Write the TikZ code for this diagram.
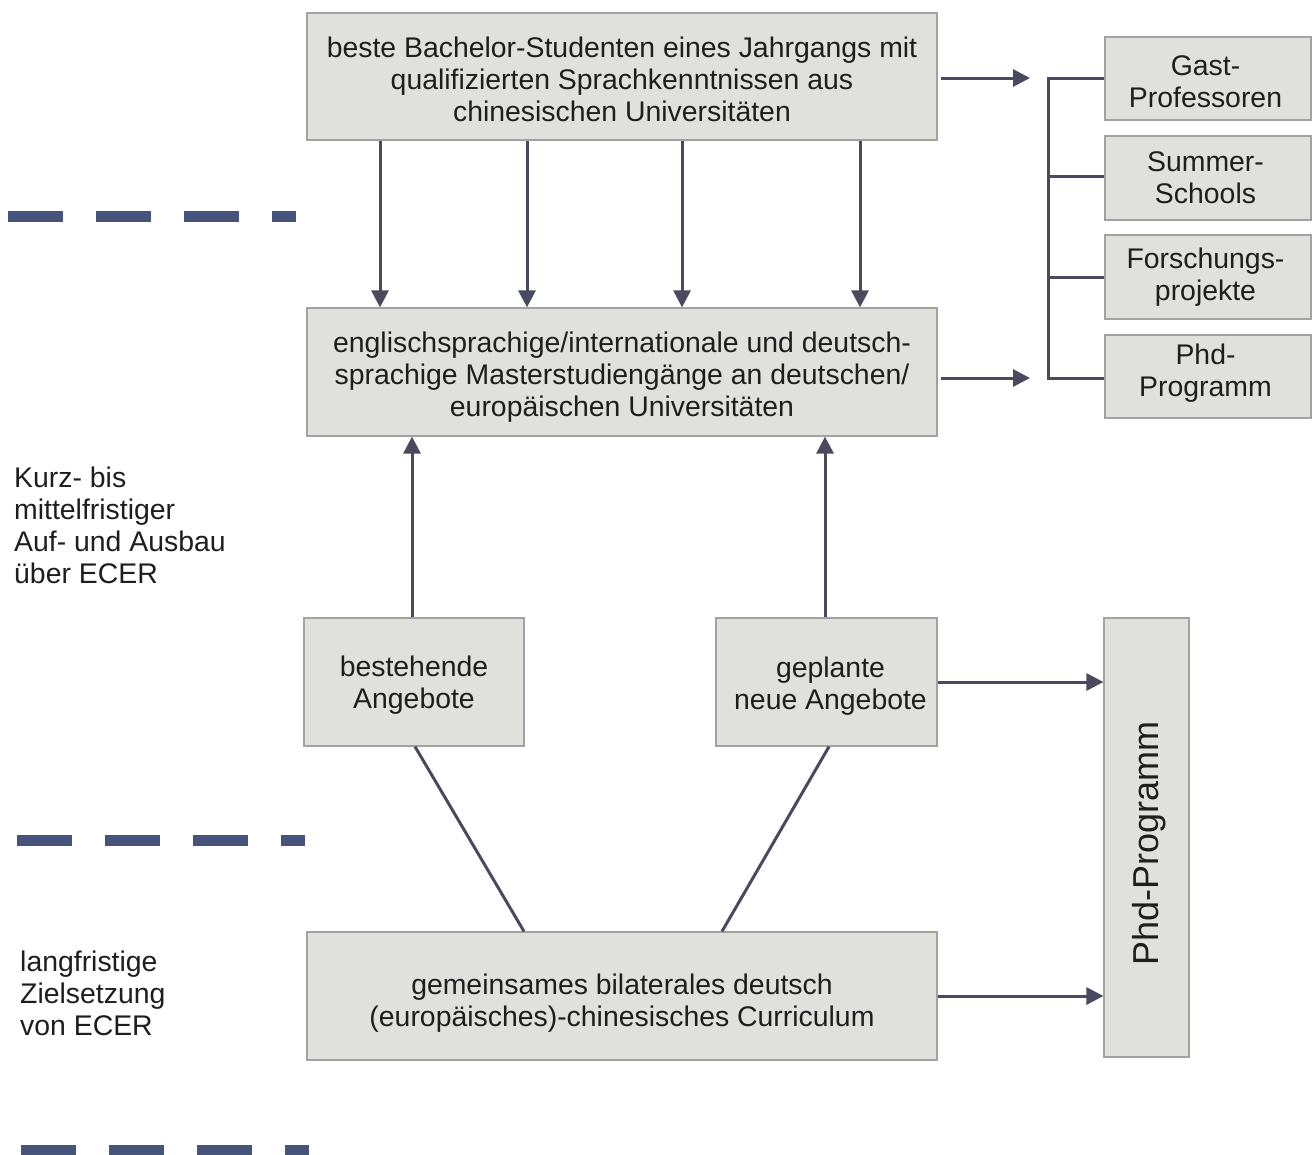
\documentclass[tikz,border=0pt]{standalone}
\usepackage{fontspec}
\setmainfont{Liberation Sans}
\usetikzlibrary{arrows.meta}
\definecolor{boxfill}{HTML}{E0E0DD}
\definecolor{boxline}{HTML}{A2A2A2}
\definecolor{linkcol}{HTML}{4A4A5E}
\definecolor{dashcol}{HTML}{46537A}
\definecolor{txt}{HTML}{1E1E1E}
\begin{document}
\begin{tikzpicture}[x=1pt,y=-1pt,
  every node/.style={text=txt,font=\fontsize{28.4}{32}\selectfont},
  panel/.style={draw=boxline,line width=1.2pt,fill=boxfill,inner sep=0pt},
  caption/.style={align=center,inner sep=0pt},
  link/.style={draw=linkcol,line width=3pt},
  arr/.style={link,-{Triangle[length=17pt,width=17pt]}},
  sep/.style={draw=dashcol,line width=11pt},
  note/.style={align=left,anchor=north west,inner sep=0pt}]
\useasboundingbox (0,0) rectangle (1316,1154);

% main column boxes
\node[panel,minimum width=630pt,minimum height=127pt] (top) at (622,76.5) {};
\node[panel,minimum width=630pt,minimum height=128pt] (mid) at (622,372) {};
\node[panel,minimum width=220pt,minimum height=128pt] (best) at (414,682) {};
\node[panel,minimum width=221pt,minimum height=128pt] (plan) at (826.5,682) {};
\node[panel,minimum width=630pt,minimum height=128pt] (cur) at (622,996) {};
\node[panel,minimum width=85pt,minimum height=439pt] (phd) at (1146.5,837.5) {};

% side offer boxes
\node[panel,minimum width=206pt,minimum height=83pt] (gast) at (1208,78.5) {};
\node[panel,minimum width=206pt,minimum height=84pt] (summer) at (1208,178) {};
\node[panel,minimum width=206pt,minimum height=84pt] (forsch) at (1208,277) {};
\node[panel,minimum width=206pt,minimum height=83pt] (phdr) at (1208,376.5) {};

% box texts
\node[caption] (topt) at ([yshift=-2.5pt]top.center)
  {beste Bachelor-Studenten eines Jahrgangs mit\\qualifizierten Sprachkenntnissen aus\\chinesischen Universitäten};
\node[caption] (midt) at ([yshift=-5pt]mid.center)
  {englischsprachige/internationale und deutsch-\\sprachige Masterstudiengänge an deutschen/\\europäischen Universitäten};
\node[caption] (bestt) at ([yshift=-3pt]best.center) {bestehende\\Angebote};
\node[caption] (plant) at ([xshift=4pt,yshift=-4.5pt]plan.center) {geplante\\neue Angebote};
\node[caption] (curt) at ([yshift=-7pt]cur.center)
  {gemeinsames bilaterales deutsch\\(europäisches)-chinesisches Curriculum};
\node[caption,rotate=90,font=\fontsize{36}{40}\selectfont] (phdt) at ([xshift=3pt,yshift=-6pt]phd.center) {Phd-Programm};
\node[caption] (gastt) at ([xshift=-2.5pt,yshift=-3pt]gast.center) {Gast-\\Professoren};
\node[caption] (summert) at ([xshift=-2.5pt]summer.center) {Summer-\\Schools};
\node[caption] (forscht) at ([xshift=-2.5pt]forsch.center) {Forschungs-\\projekte};
\node[caption] (phdrt) at ([xshift=-2.5pt,yshift=3pt]phdr.center) {Phd-\\Programm};

% top to master
\foreach \x in {380,527,682,860}
  \draw[arr] (top.south -| \x,0) -- (mid.north -| \x,0);

% offers up to master
\draw[arr] (best.north -| 412,0) -- (mid.south -| 412,0);
\draw[arr] (plan.north -| 825,0) -- (mid.south -| 825,0);

% curriculum feeds offers
\draw[link] (best.south -| 415,0) -- (cur.north -| 524,0);
\draw[link] (plan.south -| 829,0) -- (cur.north -| 722,0);

% to PhD
\draw[arr] (plan.east |- 0,682) -- (phd.west |- 0,682);
\draw[arr] (cur.east |- 0,996) -- (phd.west |- 0,996);

% arrows towards the side bracket
\coordinate (b1) at (1030,78);
\coordinate (b2) at (1030,378);
\draw[arr] (top.east |- 0,78) ++(3,0) -- (b1);
\draw[arr] (mid.east |- 0,378) ++(3,0) -- (b2);

% bracket
\draw[link] (gast.west) -| (1048,378) -- (phdr.west |- 0,378);
\draw[link] (1048,176) -- (summer.west |- 0,176);
\draw[link] (1048,277) -- (forsch.west |- 0,277);

% phase separators
\foreach \y/\s in {216/8,840/17,1150/21}{
  \foreach \k in {0,1,2}
    \draw[sep] (\s+88*\k,\y) -- (\s+88*\k+55,\y);
  \draw[sep] (\s+264,\y) -- (\s+288,\y);
}

% phase labels
\node[note] (kurz) at (14,467) {Kurz- bis\\mittelfristiger\\Auf- und Ausbau\\über ECER};
\node[note] (lang) at (20,951) {langfristige\\Zielsetzung\\von ECER};
\end{tikzpicture}
\end{document}
